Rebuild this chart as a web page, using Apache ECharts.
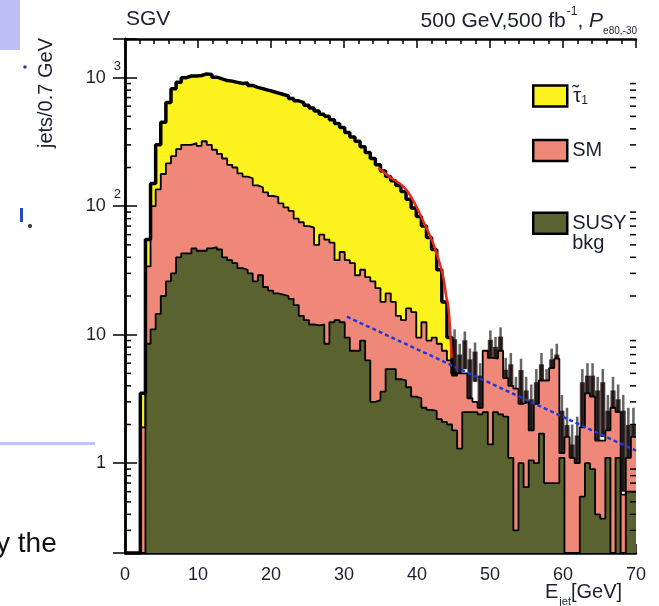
<!DOCTYPE html>
<html>
<head>
<meta charset="utf-8">
<script src="https://cdn.jsdelivr.net/npm/echarts/dist/echarts.min.js"></script>
<style>
  html, body { margin: 0; padding: 0; background: #fff; }
  #chart { width: 659px; height: 606px; }
</style>
</head>
<body>
<div id="chart"></div>
<script>
// jets / 0.7 GeV, 100 bins from 0 to 70 GeV
var binWidth = 0.7;
var xMax = 70;
var yMin = 0.2;

// stacked levels (SUSY bkg, SM on top of it, stau on top of both)
// empty bins sit at the axis floor (0.2)
var susyBkg = [
  0.2, 0.2, 0.2, 0.2, 8.5, 11, 14.5, 20, 26, 30,
  40, 43, 43, 47, 45, 45, 47, 48, 46, 40,
  38, 36, 33, 32, 30, 26, 29, 23.5, 22, 21,
  20.5, 20, 19, 17, 14, 13, 12, 11.8, 12, 8.5,
  12.5, 13, 12.5, 9.5, 7.5, 7.5, 9, 6.3, 3.0, 3.1,
  3.6, 5.4, 5.4, 4.5, 4.4, 3.9, 3.3, 3.2, 2.7, 2.6,
  2.55, 2.2, 2.1, 2.0, 1.8, 1.3, 2.5, 2.5, 2.5, 2.4,
  2.5, 1.4, 2.5, 2.4, 2.3, 1.1, 0.3, 1.0, 0.65, 1.05,
  1.0, 1.7, 0.7, 0.7, 0.7, 1.1, 0.2, 0.2, 0.2, 0.55,
  1.0, 0.9, 0.4, 0.37, 1.1, 0.2, 1.1, 0.2, 0.6, 0.6
];
var smStack = [
  0.2, 0.2, 0.2, 1.9, 34, 100, 135, 178, 215, 245,
  278, 300, 300, 310, 295, 320, 300, 275, 255, 235,
  210, 200, 180, 170, 165, 145, 140, 128, 120, 118,
  105, 98, 92, 80, 75, 70, 68, 50, 60, 55,
  52, 38, 44, 38, 36, 29, 32, 28, 26, 23,
  18, 21, 18, 14, 13, 16, 15, 9.5, 12.5, 9,
  9.5, 8.5, 7.5, 6.3, 4.8, 5.0, 5.0, 3.2, 3.0, 2.7,
  7.5, 6.6, 6.5, 7.5, 4.6, 4.0, 3.8, 2.9, 3.0, 1.8,
  2.9, 4.4, 4.4, 5.5, 6.5, 1.2, 1.6, 1.1, 1.0, 1.9,
  3.5, 3.3, 1.5, 1.5, 1.8, 2.7, 2.5, 0.57, 1.1, 1.6
];
// total (stau + SM + SUSY bkg) up to the stau end point, bins 0..64
var totalStack = [
  0.2, 0.2, 0.2, 3.5, 55, 150, 300, 450, 640, 820,
  920, 1000, 1030, 1030, 1040, 1070, 1060, 1010, 980, 950,
  940, 920, 900, 910, 870, 840, 820, 800, 780, 760,
  740, 720, 690, 660, 640, 610, 580, 550, 520, 500,
  470, 440, 410, 375, 345, 320, 290, 262, 235, 210,
  188, 170, 158, 145, 130, 113, 97, 83, 70, 57,
  46, 32, 18, 9.5, 5
];

// pseudo-data with errors in the tail, bins 64..99
var dataStart = 64;
var dataVal = [
  8, 6, 8, 5.5, 6.5, 4, 3.5, 8, 7, 8.5,
  4.5, 5, 3, 4.5, 3, 2.5, 3.5, 5, 3.5, 5.5,
  6, 2, 1.5, 1, 1.2, 3.5, 4, 4, 3, 3.5,
  2, 3, 2.5, 2, 1.5, 1.5
];
var dataErr = [
  3, 2.5, 2.6, 2.3, 2.2, 2, 1.8, 2.8, 2.6, 2.9,
  2.1, 2.2, 1.7, 2, 1.7, 1.6, 1.9, 2.2, 1.9, 2.3,
  2.5, 1.4, 1.2, 1, 1.1, 1.9, 2, 2, 1.7, 1.9,
  1.4, 1.7, 1.6, 1.4, 1.2, 1.2
];

// fitted curves
var edgeFit = [
  [34.7, 198], [36.5, 165], [38.2, 141], [39.5, 110], [40.6, 82],
  [41.6, 62], [42.4, 48], [43.1, 36], [43.6, 28], [44.0, 20],
  [44.3, 16.3], [44.6, 9.5], [44.75, 6.6]
];
var bkgFit = [[30.4, 13.8], [70, 1.25]];

var logMinorTicks = [
  0.3, 0.4, 0.5, 0.6, 0.7, 0.8, 0.9,
  2, 3, 4, 5, 6, 7, 8, 9,
  20, 30, 40, 50, 60, 70, 80, 90,
  200, 300, 400, 500, 600, 700, 800, 900
];

var legendNames = { 'stau': '{tl|\u02dc}{t|\u03c4}{s|1}', 'SM': 'SM', 'SUSY bkg': 'SUSY\nbkg' };

var cYellow = '#fcf21e';
var cPink = '#ef8878';
var cOlive = '#5a6330';
var cText = '#1c1f30';
var font = 'Liberation Sans, Arial, sans-serif';

function histLine(values) {
  var pts = values.map(function (v, i) { return [i * binWidth, v]; });
  pts.push([values.length * binWidth, values[values.length - 1]]);
  return pts;
}

var dataPoints = dataVal.map(function (v, k) {
  return [(dataStart + k) * binWidth, v, dataErr[k]];
});

var chart = echarts.init(document.getElementById('chart'));

function areaSeries(name, values, color, lw) {
  return {
    name: name,
    type: 'line',
    step: 'end',
    data: histLine(values),
    symbol: 'none',
    clip: true,
    color: color,
    lineStyle: { color: '#000', width: lw },
    itemStyle: { color: color },
    areaStyle: { color: color, opacity: 1, origin: 'start' },
    silent: true
  };
}

var option = {
  animation: false,
  backgroundColor: '#fff',
  textStyle: { fontFamily: font },
  grid: { left: 125, right: 23, top: 39, bottom: 53 },
  legend: {
    orient: 'vertical',
    left: 527,
    top: 78,
    itemWidth: 34,
    itemHeight: 21,
    itemGap: 31,
    icon: 'rect',
    selectedMode: false,
    formatter: function (name) { return legendNames[name]; },
    textStyle: {
      fontSize: 20, color: cText, fontFamily: font, lineHeight: 20,
      rich: {
        tl: { fontSize: 20, width: 1, color: cText, fontFamily: font, padding: [0, 0, 6, 0] },
        t: { fontSize: 20, color: cText, fontFamily: font },
        s: { fontSize: 12, color: cText, fontFamily: font, padding: [10, 0, 0, 0] }
      }
    },
    data: [
      { name: 'stau', itemStyle: { color: cYellow, borderColor: '#000', borderWidth: 2.5 } },
      { name: 'SM', itemStyle: { color: cPink, borderColor: '#000', borderWidth: 2.5 } },
      { name: 'SUSY bkg', itemStyle: { color: cOlive, borderColor: '#000', borderWidth: 2.5 },
        textStyle: { padding: [20, 0, 0, 0] } }
    ]
  },
  xAxis: [{
    type: 'value', min: 0, max: xMax, interval: 10, position: 'bottom',
    axisLine: { lineStyle: { color: '#000', width: 2.5 } },
    axisTick: { inside: true, length: 9, lineStyle: { color: '#000', width: 1.5 } },
    minorTick: { show: true, splitNumber: 5, length: 5, lineStyle: { color: '#000', width: 1.5 } },
    axisLabel: { fontSize: 18, margin: 13, color: cText, fontFamily: font },
    splitLine: { show: false }
  }, {
    type: 'value', min: 0, max: xMax, interval: 10, position: 'top',
    axisLine: { lineStyle: { color: '#000', width: 2.5 } },
    axisTick: { inside: true, length: 9, lineStyle: { color: '#000', width: 1.5 } },
    minorTick: { show: true, splitNumber: 5, length: 5, lineStyle: { color: '#000', width: 1.5 } },
    axisLabel: { show: false },
    splitLine: { show: false }
  }],
  yAxis: [{
    type: 'log', logBase: 10, min: yMin, max: 2000, position: 'left',
    axisLine: { lineStyle: { color: '#000', width: 2.5 } },
    axisTick: { inside: true, length: 12, lineStyle: { color: '#000', width: 1.5 } },
    axisLabel: {
      margin: 4, color: cText, fontFamily: font,
      formatter: function (v) {
        var p = Math.round(Math.log10(v));
        if (Math.abs(v - Math.pow(10, p)) > 1e-6 * v) return '';
        if (p === 0) return '{b|1}{pad|}';
        if (p === 1) return '{b|10}{pad|}';
        return '{b|10}{sup|' + p + '}';
      },
      rich: {
        b: { fontSize: 18, lineHeight: 18, verticalAlign: 'bottom', color: cText, fontFamily: font },
        sup: { fontSize: 13, lineHeight: 13, padding: [0, 0, 14, 8], verticalAlign: 'bottom', color: cText, fontFamily: font },
        pad: { width: 15, fontSize: 13, lineHeight: 13, verticalAlign: 'bottom' }
      }
    },
    splitLine: { show: false }
  }, {
    type: 'log', logBase: 10, min: yMin, max: 2000, position: 'right',
    axisLine: { lineStyle: { color: '#000', width: 2.5 } },
    axisTick: { inside: true, length: 12, lineStyle: { color: '#000', width: 1.5 } },
    axisLabel: { show: false },
    splitLine: { show: false }
  }],
  series: [
    areaSeries('stau', totalStack, cYellow, 3.5),
    areaSeries('SM', smStack, cPink, 1.8),
    areaSeries('SUSY bkg', susyBkg, cOlive, 1.8),
    {
      name: 'data',
      type: 'custom',
      data: dataPoints,
      encode: { x: 0, y: 1 },
      clip: true,
      silent: true,
      renderItem: function (params, api) {
        var x0 = api.value(0), v = api.value(1), e = api.value(2);
        var lo = v - e > 0.05 ? v - e : 0.05;
        var top = api.coord([x0, v + e]);
        var boxTop = api.coord([x0, v + 0.4 * e]);
        var bot = api.coord([x0 + binWidth, lo]);
        var w = bot[0] - top[0];
        return {
          type: 'group',
          children: [
            { type: 'rect', shape: { x: top[0], y: boxTop[1], width: w, height: bot[1] - boxTop[1] },
              style: { fill: 'rgba(25,5,5,0.78)' } },
            { type: 'rect', shape: { x: top[0] + w * 0.25, y: top[1], width: w * 0.5, height: bot[1] - top[1] },
              style: { fill: 'rgba(0,0,0,0.6)' } }
          ]
        };
      }
    },
    {
      name: 'bkg fit',
      type: 'line',
      data: bkgFit,
      symbol: 'none',
      silent: true,
      lineStyle: { color: '#2238d8', width: 2.5, type: [4, 3] }
    },
    {
      name: 'edge fit',
      type: 'line',
      data: edgeFit,
      smooth: true,
      symbol: 'none',
      silent: true,
      lineStyle: { color: '#e8261c', width: 2.5 }
    },
    {
      name: 'minor ticks',
      type: 'custom',
      data: logMinorTicks.map(function (v) { return [0, v]; }),
      encode: { x: 0, y: 1 },
      silent: true,
      z: 10,
      renderItem: function (params, api) {
        var l = api.coord([0, api.value(1)]);
        var r = api.coord([xMax, api.value(1)]);
        return {
          type: 'group',
          children: [
            { type: 'line', shape: { x1: l[0], y1: l[1], x2: l[0] + 6, y2: l[1] }, style: { stroke: '#000', lineWidth: 1.5 } },
            { type: 'line', shape: { x1: r[0], y1: r[1], x2: r[0] - 6, y2: r[1] }, style: { stroke: '#000', lineWidth: 1.5 } }
          ]
        };
      }
    }
  ],
  graphic: [
    // pieces of the surrounding slide
    { type: 'rect', shape: { x: 0, y: 0, width: 20, height: 50 }, style: { fill: '#bcc0f6' } },
    { type: 'rect', shape: { x: 0, y: 442, width: 95, height: 3 }, style: { fill: '#bfc3f6' } },
    { type: 'circle', shape: { cx: 25, cy: 67, r: 1.8 }, style: { fill: '#2a3c9c' } },
    { type: 'rect', shape: { x: 20, y: 208, width: 3, height: 14 }, style: { fill: '#2448c8' } },
    { type: 'circle', shape: { cx: 30, cy: 226, r: 2 }, style: { fill: '#3a2a3a' } },
    { type: 'text', x: -4, y: 530, style: { text: 'y the', font: '28px ' + font, fill: '#111' } },
    // plot annotations
    { type: 'text', x: 126, y: 9, style: { text: 'SGV', font: '21px ' + font, fill: cText } },
    {
      type: 'text', x: 637, y: 36,
      style: {
        text: '{m|500 GeV,500 fb}{sup|-1}{m|, }{it|P}{sub|e80,-30}',
        align: 'right', verticalAlign: 'bottom',
        rich: {
          m: { fontSize: 21, lineHeight: 22, padding: [0, 0, 4, 0], verticalAlign: 'bottom', fill: cText, fontFamily: font },
          it: { fontSize: 21, fontStyle: 'italic', lineHeight: 22, padding: [0, 0, 4, 0], verticalAlign: 'bottom', fill: cText, fontFamily: font },
          sup: { fontSize: 12, lineHeight: 12, padding: [0, 0, 18, 1], verticalAlign: 'bottom', fill: cText, fontFamily: font },
          sub: { fontSize: 10, lineHeight: 10, verticalAlign: 'bottom', fill: cText, fontFamily: font }
        }
      }
    },
    {
      type: 'text', x: 46, y: 38, rotation: Math.PI / 2,
      style: { text: 'jets/0.7 GeV', font: '20px ' + font, fill: cText, align: 'right', verticalAlign: 'middle' }
    },
    {
      type: 'text', x: 545, y: 582,
      style: {
        text: '{m|E}{sub|jet}{m|[GeV]}',
        rich: {
          m: { fontSize: 20, lineHeight: 22, verticalAlign: 'top', fill: cText, fontFamily: font },
          sub: { fontSize: 11, lineHeight: 11, padding: [14, 0, 0, 1], verticalAlign: 'top', fill: cText, fontFamily: font }
        }
      }
    }
  ]
};

chart.setOption(option);
</script>
</body>
</html>
